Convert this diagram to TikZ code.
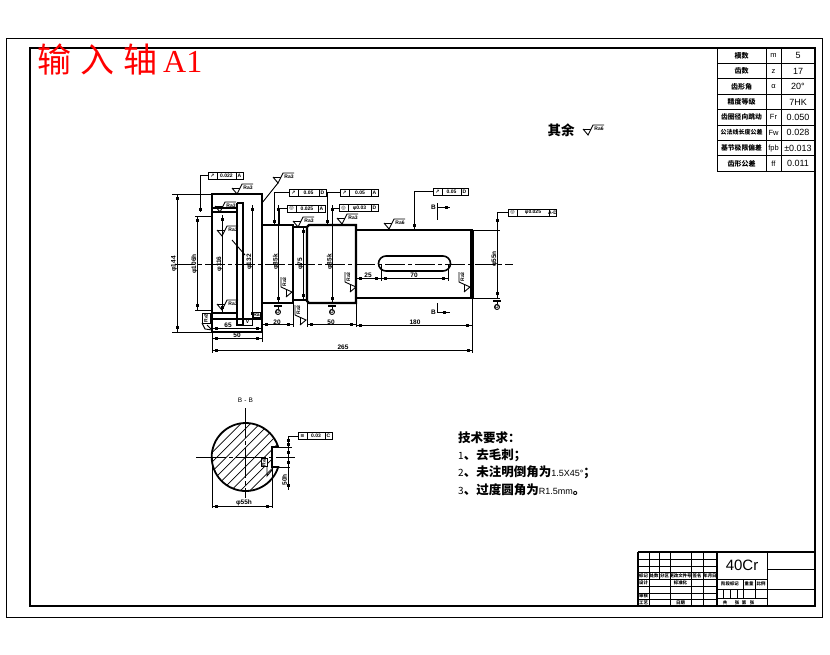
\documentclass[tikz,border=0pt]{standalone}
\usepackage{fontspec}
\setmainfont{Liberation Sans}
\newfontfamily\cjk{Noto Sans CJK SC}
\newfontfamily\djv{DejaVu Sans}
\newfontfamily\tser{Liberation Serif}
\newcounter{lc}
\tikzset{
  thin line/.style={line width=0.9pt,black},
  thick line/.style={line width=2.2pt,black,line cap=rect},
  lbl/.style={inner sep=0pt,font=\fontsize{6.5}{6.5}\selectfont\bfseries},
  tiny lbl/.style={inner sep=0pt,font=\fontsize{5}{5}\selectfont\bfseries},
  cjk lbl/.style={inner sep=0pt,font=\cjk\fontsize{8.5}{9}\selectfont\bfseries},
  cjk tiny/.style={inner sep=0pt,font=\cjk\fontsize{4.4}{4.4}\selectfont\bfseries},
  note/.style={inner sep=0pt,anchor=west,font=\cjk\fontsize{12.5}{13}\selectfont\bfseries},
  cell/.style={inner sep=0pt,font=\fontsize{9}{9}\selectfont},
}
\newcommand\lab[4][]{\stepcounter{lc}\node[lbl,#1] (t\arabic{lc}) at ({#2},{#3}) {#4};}
\newcommand\dimh[3]{\draw[thin line] (#2,#1) -- (#3,#1);
  \fill (#2+3,#1-1.5) rectangle +(3,3); \fill (#3-6,#1-1.5) rectangle +(3,3);}
\newcommand\dimv[3]{\draw[thin line] (#1,#2) -- (#1,#3);
  \fill (#1-1.5,#2+3) rectangle +(3,3); \fill (#1-1.5,#3-6) rectangle +(3,3);}
\newcommand\surf[3]{\draw[thin line] (#1-5,#2-6) -- (#1,#2) -- (#1+5,#2-10) -- (#1+16,#2-10);
  \draw[thin line] (#1-5,#2-6) -- (#1+3,#2-6);
  \lab[tiny lbl]{#1+11}{#2-6.5}{#3}}
\newcommand\surfr[3]{\draw[thin line] (#1-6,#2+5) -- (#1,#2) -- (#1-11,#2-5) -- (#1-11,#2-15);
  \draw[thin line] (#1-6,#2+5) -- (#1-6,#2-3);
  \lab[tiny lbl,rotate=90]{#1-7.5}{#2-10}{#3}}
% feature control frame: x1 x2 ytop symbol value datum
\newcommand\fcf[6]{\draw[thin line] (#1,#3) rectangle (#2,#3+7);
  \draw[thin line] (#1+9,#3) -- (#1+9,#3+7);
  \draw[thin line] (#2-7,#3) -- (#2-7,#3+7);
  \lab[tiny lbl]{#1+4.5}{#3+3.5}{\djv #4}
  \lab[tiny lbl]{0.5*(#1+#2+2)}{#3+3.5}{#5}
  \lab[tiny lbl]{#2-3.5}{#3+3.5}{#6}}
\newcommand\datum[3]{\draw[line width=1.3pt] (#1-4,#2) -- (#1+4,#2);
  \draw[thin line] (#1,#2) -- (#1,#2+3);
  \draw[thin line] (#1,#2+6) circle (2.5);
  \lab[tiny lbl]{#1}{#2+6}{#3}}
\begin{document}
\begin{tikzpicture}[x=1pt,y=-1pt]
\useasboundingbox (0,0) rectangle (830,654);
\fill[white] (0,0) rectangle (830,654);
% frames
\draw[thin line] (6.5,38.5) rectangle (822,617);
\draw[line width=2.4pt] (30,48) rectangle (815,606);
\node[inner sep=0pt,anchor=west,text=red,font=\cjk\fontsize{34}{34}\selectfont] (title) at (37,60)
  {输\hspace{9pt}入\hspace{9pt}轴\hspace{6pt}{\tser\fontsize{32}{32}\selectfont A1}};

% parameter table
\draw[thin line] (717,48) rectangle (815,171);
\draw[thin line] (766,48) -- (766,171) (781,48) -- (781,171);
\foreach \r in {1,...,7} \draw[thin line] (717,48+15.4*\r) -- (815,48+15.4*\r);
\newcommand\trow[4]{\stepcounter{lc}\node[cjk lbl,font=\cjk\fontsize{#4}{9}\selectfont\bfseries] (c\arabic{lc}) at (741.5,#1) {#2};}
\trow{55.7}{模数}{}{7}
\trow{71.1}{齿数}{}{7}
\trow{86.5}{齿形角}{}{7}
\trow{101.9}{精度等级}{}{7}
\trow{117.3}{齿圈径向跳动}{}{6.8}
\trow{132.7}{公法线长度公差}{}{6}
\trow{148.1}{基节极限偏差}{}{6.8}
\trow{163.5}{齿形公差}{}{7}
\foreach \yy/\aa/\bb [count=\i] in {55.7/m/5,71.1/z/17,86.5/α/20°,101.9//7HK,117.3/Fr/0.050,132.7/Fw/0.028,148.1/fpb/±0.013,163.5/ff/0.011}{
  \node[cell,font=\fontsize{7.5}{8}\selectfont] (pa\i) at (773.5,\yy) {\aa};
  \node[cell] (pb\i) at (798,\yy) {\bb};
}

% title block
\draw[thin line] (638,552) rectangle (815,606);
\draw[line width=1.4pt] (638,552) -- (815,552) (638,552) -- (638,606) (717,552) -- (717,606);
\foreach \v in {649,659,670,691,703} \draw[thin line] (\v,552) -- (\v,579);
\foreach \v in {649,670,691,703} \draw[thin line] (\v,579) -- (\v,606);
\foreach \h in {559,566,572,579,586,593,599} \draw[thin line] (638,\h) -- (717,\h);
\draw[thin line] (717,579) -- (767,579) (717,589) -- (767,589) (717,598) -- (767,598);
\draw[thin line] (767,552) -- (767,606) (767,569) -- (815,569) (767,589) -- (815,589);
\draw[thin line] (743,579) -- (743,598) (755,579) -- (755,598);
\draw[thin line] (723,589) -- (723,598) (730,589) -- (730,598) (737,589) -- (737,598);
\node[inner sep=0pt,font=\fontsize{15}{15}\selectfont] (mat) at (742,565) {40Cr};
\lab[cjk tiny]{643.5}{575.5}{标记}
\lab[cjk tiny]{654}{575.5}{处数}
\lab[cjk tiny]{664.5}{575.5}{分区}
\lab[cjk tiny]{680.5}{575.5}{更改文件号}
\lab[cjk tiny]{697}{575.5}{签名}
\lab[cjk tiny]{710}{575.5}{年月日}
\lab[cjk tiny]{643.5}{582.5}{设计}
\lab[cjk tiny]{680.5}{582.5}{标准化}
\lab[cjk tiny]{643.5}{596}{审核}
\lab[cjk tiny]{643.5}{602.5}{工艺}
\lab[cjk tiny]{680.5}{602.5}{日期}
\lab[cjk tiny]{730}{584}{阶段标记}
\lab[cjk tiny]{749}{584}{重量}
\lab[cjk tiny]{761}{584}{比例}
\lab[cjk tiny]{725}{602.5}{共}
\lab[cjk tiny]{737}{602.5}{张}
\lab[cjk tiny]{744}{602.5}{第}
\lab[cjk tiny]{752}{602.5}{张}

% center line
\draw[thin line,dash pattern=on 20pt off 3pt on 4pt off 3pt] (175,264) -- (513,264);

% shaft outline
\draw[thick line] (212,194) rectangle (262,332);
\draw[thick line] (262,225) -- (293,225) -- (293,303) -- (262,303);
\draw[thick line] (293,227) -- (307,227) -- (307,300) -- (293,300);
\draw[thick line] (309,225) -- (356,225) -- (356,303) -- (309,303) -- (307,301) -- (307,227) -- cycle;
\draw[thick line] (356,230) -- (472,230) -- (472,298) -- (356,298);
\draw[line width=3.5pt] (472,230) -- (472,298);
% flange inner lines
\draw[line width=1.6pt] (237,203) -- (237,325) -- (243,325) (237,203) -- (243,203) -- (243,325);
\draw[line width=1.3pt] (212,208) -- (237,208) (212,212) -- (237,212) (212,313) -- (237,313) (212,319) -- (262,319);
\draw[thin line] (232,240) -- (245,255);
% keyway
\draw[line width=1.6pt] (386,256) -- (443,256) arc[start angle=-90,end angle=90,radius=7.5] -- (386,271) arc[start angle=90,end angle=270,radius=7.5];

% section marks
\lab{433.5}{207.5}{B}
\draw[thin line] (437,203) -- (437,220) (437,207.5) -- (450,207.5);
\fill (445,206) rectangle +(3,3);
\lab{433.5}{312}{B}
\draw[thin line] (437,303) -- (437,313) (437,312) -- (450,312);
\fill (443,310.5) rectangle +(3,3);

% extension lines
\draw[thin line] (172,194) -- (212,194) (172,332) -- (212,332);
\draw[thin line] (195,216) -- (212,216) (195,310) -- (212,310);
\draw[thin line] (212,332) -- (212,353) (262,332) -- (262,342);
\draw[thin line] (262,303) -- (262,327) (293,303) -- (293,327) (307,303) -- (307,327);
\draw[thin line] (356,303) -- (356,327) (472,298) -- (472,353);
\draw[thin line] (381,264) -- (381,281) (448,264) -- (448,281);
\draw[thin line] (472,230) -- (500,230) (472,298) -- (500,298);

% dimensions
\dimv{177}{194}{332}  \lab[rotate=90]{174}{264}{φ144}
\dimv{197}{216}{310}  \lab[rotate=90]{194.5}{264}{φ106h}
\dimv{222}{215}{312}  \lab[rotate=90]{219.5}{264}{φ116}
\dimv{252}{205}{318}  \lab[rotate=90]{249.5}{262}{φ132}
\dimv{278}{205}{303}  \lab[rotate=90]{276}{262}{φ85k}
\dimv{303}{227}{300}  \lab[rotate=90]{300.5}{264}{φ75}
\dimv{332}{205}{303}  \lab[rotate=90]{330}{262}{φ85k}
\dimv{497}{216}{298}  \lab[rotate=90]{494.5}{259}{φ55n}
\dimh{338}{212}{262}  \lab{237}{335}{50}
\dimh{328}{212}{262}  \lab{228}{325}{65}
\dimh{324}{262}{293}  \lab{277}{322}{20}
\dimh{324}{307}{356}  \lab{331}{322}{50}
\dimh{325}{356}{472}  \lab{415}{322}{180}
\dimh{350}{212}{473}  \lab{343}{347}{265}
\dimh{278}{356}{381}  \lab{368}{275}{25}
\dimh{278}{381}{448}  \lab{414}{275.5}{70}

% datum symbols
\datum{278}{306}{D}
\datum{332}{306}{D}
\datum{497}{301}{D}

% geometric tolerance frames and leaders
\fcf{208}{243}{172}{↗}{0.022}{A}
\draw[thin line] (208,175.5) -- (200,175.5) -- (200,212);
\fill (198.5,208) rectangle +(3,3);
\fcf{289}{326}{189}{↗}{0.05}{D}
\draw[thin line] (289,192.5) -- (274,192.5) -- (274,225);
\fill (272.5,220) rectangle +(3,3);
\fcf{287}{325}{205}{◎}{0.025}{A}
\draw[thin line] (287,208.5) -- (279,208.5) -- (279,225);
\fcf{340}{378}{189}{↗}{0.05}{A}
\draw[thin line] (340,192.5) -- (327,192.5) -- (327,225);
\fill (325.5,220) rectangle +(3,3);
\fcf{339}{378}{204.5}{◎}{φ0.03}{D}
\draw[thin line] (339,208) -- (332,208) -- (332,225);
\fcf{433}{468}{188}{↗}{0.05}{D}
\draw[thin line] (433,191.5) -- (414,191.5) -- (414,230);
\fill (412.5,224) rectangle +(3,3);
\fcf{508}{556}{209}{◎}{φ0.025}{A-D}
\draw[thin line] (508,212.5) -- (497,212.5) -- (497,230);

% surface finish symbols
\surf{237}{194}{Ra3}
\surf{278}{183}{Ra3}
\draw[thin line] (278,183) -- (262,203);
\surf{220}{212}{Ra3}
\surf{222}{236}{Ra3}
\surf{222}{310}{Ra3}
\surf{298}{227}{Ra3}
\surf{342}{224}{Ra3}
\surf{389}{229}{Ra6}
\surfr{356}{287}{Ra3}
\surfr{470}{287}{Ra3}
\surfr{292}{292}{Ra3}
\surfr{306}{320}{Ra3}
\draw[thin line] (202,313) rectangle (210,323);
\lab[tiny lbl,rotate=90]{206}{318}{Ra3}
\draw[thin line] (202,323) -- (205,329) -- (212,330);
\draw[thin line] (207,325) -- (212,330);
\draw[thin line] (243,318) rectangle (252,325);
\lab[tiny lbl]{247.5}{321.5}{V}
\draw[thin line] (253,312) rectangle (260,317);
\lab[tiny lbl]{256.5}{314.5}{Ra}

% other finish note
\node[inner sep=0pt,font=\cjk\fontsize{13.5}{14}\selectfont\bfseries] (other) at (561,130) {其余};
\surf{588}{135}{Ra6}

% section B-B
\lab[font=\fontsize{6.5}{6.5}\selectfont]{245.5}{400}{B\,\,-\,\,B}
\begin{scope}
\clip (278.2,467) arc[start angle=17.1,end angle=342.9,radius=34] -- (272,447) -- (272,467) -- cycle;
\foreach \k in {-8,...,8} \draw[line width=0.7pt] (245.7-40+\k*9.5,457+40) -- (245.7+40+\k*9.5,457-40);
\end{scope}
\fill[white] (261,458) rectangle (267,466);
\draw[line width=1.8pt] (278.2,467) arc[start angle=17.1,end angle=342.9,radius=34] -- (272,447) -- (272,467) -- cycle;
\draw[thin line,dash pattern=on 30pt off 3pt on 4pt off 3pt] (196,457) -- (295,457);
\draw[thin line,dash pattern=on 30pt off 3pt on 4pt off 3pt] (245.7,408) -- (245.7,498);
\draw[thin line] (261,458) rectangle (267,466);
\lab[tiny lbl,rotate=90]{264}{462}{Ra3}
\draw[thin line] (267,466) -- (267,476) -- (272,470);
\draw[thin line] (212,457) -- (212,508) (272,467) -- (272,508);
\draw[thin line] (272,447) -- (292,447) (274,467) -- (290,467);
\dimh{506}{212}{272} \lab{244}{503}{φ55h}
\dimv{288}{436}{490}
\fill (286.5,443) rectangle +(3,3);
\fill (286.5,451) rectangle +(3,3);
\fill (286.5,461) rectangle +(3,3);
\lab[rotate=90]{284.5}{480}{50h}
\fcf{298}{332}{432.5}{≡}{0.03}{C}
\draw[thin line] (298,436) -- (288,436);

% technical requirements
\node[note] (tr0) at (458,438) {技术要求：};
\node[note] (tr1) at (458,455) {{\fontsize{10}{10}\selectfont\mdseries 1}、去毛刺；};
\node[note] (tr2) at (458,472.5) {{\fontsize{10}{10}\selectfont\mdseries 2}、未注明倒角为{\rmfamily\fontsize{9}{9}\selectfont\mdseries 1.5X45°}；};
\node[note] (tr3) at (458,490) {{\fontsize{10}{10}\selectfont\mdseries 3}、过度圆角为{\rmfamily\fontsize{9}{9}\selectfont\mdseries R1.5mm}。};
\end{tikzpicture}
\end{document}
